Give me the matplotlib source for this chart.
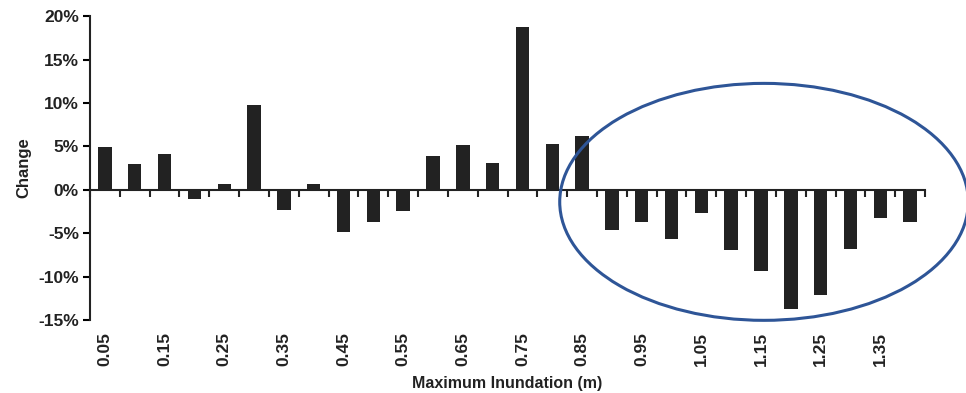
import numpy as np
import matplotlib
matplotlib.use("Agg")
import matplotlib.pyplot as plt
from matplotlib.patches import Ellipse

plt.rcParams['font.family'] = ['Liberation Sans', 'DejaVu Sans']

# inundation classes (m) and change per class (%)
depths = [0.05, 0.10, 0.15, 0.20, 0.25, 0.30, 0.35, 0.40, 0.45, 0.50,
          0.55, 0.60, 0.65, 0.70, 0.75, 0.80, 0.85, 0.90, 0.95, 1.00,
          1.05, 1.10, 1.15, 1.20, 1.25, 1.30, 1.35, 1.40]
change = [4.9, 3.0, 4.1, -1.1, 0.7, 9.8, -2.3, 0.7, -4.9, -3.7,
          -2.5, 3.9, 5.2, 3.1, 18.7, 5.3, 6.2, -4.6, -3.7, -5.7,
          -2.7, -6.9, -9.4, -13.8, -12.1, -6.8, -3.3, -3.7]
ytick_vals = [-15, -10, -5, 0, 5, 10, 15, 20]

x = np.arange(len(depths))

fig = plt.figure(figsize=(9.66, 3.93), dpi=100)
ax = fig.add_axes([0.0932, 0.186, 0.8644, 0.773])

ax.bar(x, change, width=0.45, color='#222222')

ax.set_xlim(-0.5, len(depths) - 0.5)
ax.set_ylim(-15, 20)

# y axis
ax.set_yticks(ytick_vals)
ax.set_yticklabels([f"{v}%" for v in ytick_vals])
ax.tick_params(axis='y', direction='out', length=5, width=1.5, pad=3,
               labelsize=12.5)
for lab in ax.get_yticklabels():
    lab.set_fontweight('bold')
    lab.set_color('#222222')
ax.spines['left'].set_linewidth(1.5)
ax.spines['left'].set_color('#222222')
ax.set_ylabel('Change', fontsize=12, fontweight='bold', color='#222222',
              labelpad=5)

# x tick labels at the bottom, every other class
ax.set_xticks(x[::2])
ax.set_xticklabels([f"{d:.2f}" for d in depths[::2]], rotation=90)
ax.tick_params(axis='x', length=0, pad=8.5, labelsize=12.5)
for lab in ax.get_xticklabels():
    lab.set_fontweight('bold')
    lab.set_color('#222222')
ax.set_xlabel('Maximum Inundation (m)', fontsize=11.5, fontweight='bold',
              color='#222222', labelpad=7)

for s in ['top', 'right', 'bottom']:
    ax.spines[s].set_visible(False)

# zero line with class boundary ticks
zero_pos = 15 / 35
sec = ax.secondary_xaxis(zero_pos)
sec.set_xticks(np.arange(-0.5, len(depths), 1.0))
sec.set_xticklabels([])
sec.tick_params(axis='x', direction='out', length=5, width=1.5, color='#222222')
sec.spines['bottom'].set_linewidth(1.5)
sec.spines['bottom'].set_color('#222222')

# highlight ellipse
ell = Ellipse((22.1, -1.4), 13.7, 27.3, fill=False, edgecolor='#2E5597',
              linewidth=2.2, clip_on=False)
ax.add_patch(ell)

fig.savefig('out.png', dpi=100)
